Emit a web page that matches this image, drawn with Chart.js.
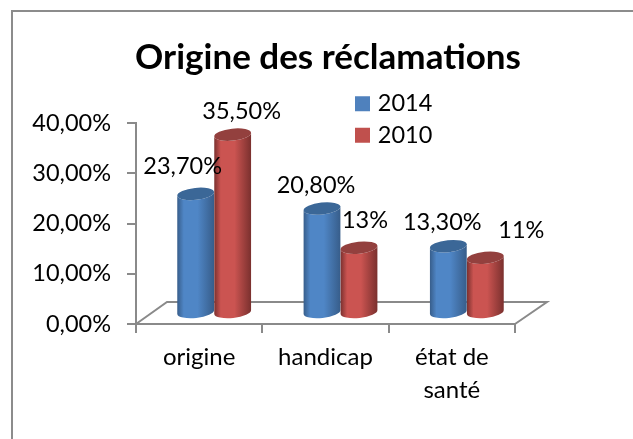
<!DOCTYPE html>
<html><head><meta charset="utf-8">
<style>
html,body{margin:0;padding:0;background:#fff;overflow:hidden}
#frame{position:absolute;left:11px;top:10px;width:622px;height:429px;border-top:2px solid #8c8c8c;border-left:2px solid #8c8c8c;box-sizing:border-box}
canvas{position:absolute;left:0;top:0}
</style>
<script src="https://cdn.jsdelivr.net/npm/chart.js@4"></script>
</head><body>
<div id="frame"></div>
<canvas id="c" width="633" height="439"></canvas>
<script>
const categories = [["origine"], ["handicap"], ["état de", "santé"]];
const seriesNames = ["2014", "2010"];
const values2014 = [23.7, 20.8, 13.3];
const values2010 = [35.5, 13, 11];
const labels2014 = ["23,70%", "20,80%", "13,30%"];
const labels2010 = ["35,50%", "13%", "11%"];
const yTickLabels = ["0,00%", "10,00%", "20,00%", "30,00%", "40,00%"];
const titleText = "Origine des réclamations";

const FONT = "Lato";
const AXIS = "#8a8a8a";
const SHIFT = {x: 15, y: -11};
const DEPTH = {x: 31, y: -22};
const NUDGE = [
  [[-13, -27], [-6, -23], [-6, -24]],
  [[9, -23], [6, -27], [36, -27]]
];
const PAINT = [
  {edge: "#375d8a", mid: "#4f86c6", top: "#3b6797"},
  {edge: "#7a302e", mid: "#cb5451", top: "#93403e"}
];
const allLabels = [labels2014, labels2010];

const cylinders = {
  id: "cylinders",
  afterLayout(chart) {
    const t = chart.titleBlock;
    t.left += 70.5; t.right += 70.5;
    const l = chart.legend;
    const w = l.width;
    l.left = 351; l.right = 351 + w; l.top = 84; l.bottom = 84 + l.height;
  },
  beforeDatasetsDraw(chart) {
    const {ctx, chartArea: a} = chart;
    ctx.save();
    ctx.strokeStyle = AXIS;
    ctx.lineWidth = 2;
    ctx.beginPath();
    ctx.moveTo(a.left, a.bottom);
    ctx.lineTo(a.left + DEPTH.x, a.bottom + DEPTH.y);
    ctx.lineTo(a.right + DEPTH.x + 1, a.bottom + DEPTH.y);
    ctx.lineTo(a.right, a.bottom);
    ctx.stroke();
    ctx.restore();
  },
  beforeDatasetDraw() { return false; },
  afterDatasetsDraw(chart) {
    const ctx = chart.ctx;
    const tilt = -6 * Math.PI / 180;
    ctx.save();
    ctx.translate(SHIFT.x, SHIFT.y);
    [0, 1].forEach(i => {
      const p = PAINT[i];
      chart.getDatasetMeta(i).data.forEach(el => {
        const rx = el.width / 2, ry = 6;
        const g = ctx.createLinearGradient(el.x - rx, 0, el.x + rx, 0);
        g.addColorStop(0, p.edge);
        g.addColorStop(0.18, p.mid);
        g.addColorStop(0.55, p.mid);
        g.addColorStop(1, p.edge);
        ctx.fillStyle = g;
        ctx.beginPath();
        ctx.ellipse(el.x, el.base, rx, ry, tilt, 0, Math.PI);
        ctx.ellipse(el.x, el.y, rx, ry, tilt, Math.PI, 0, true);
        ctx.closePath();
        ctx.fill();
        ctx.fillStyle = p.top;
        ctx.beginPath();
        ctx.ellipse(el.x, el.y, rx, ry, tilt, 0, Math.PI * 2);
        ctx.fill();
      });
    });
    ctx.fillStyle = "#000";
    ctx.font = "23.5px " + FONT;
    ctx.textAlign = "center";
    ctx.textBaseline = "middle";
    [0, 1].forEach(i => {
      chart.getDatasetMeta(i).data.forEach((el, j) => {
        ctx.fillText(allLabels[i][j], el.x + NUDGE[i][j][0], el.y + NUDGE[i][j][1]);
      });
    });
    ctx.restore();
  }
};

new Chart(document.getElementById("c"), {
  type: "bar",
  plugins: [cylinders],
  data: {
    labels: categories,
    datasets: [
      {label: seriesNames[0], data: values2014, backgroundColor: "#4f81bd", barThickness: 37},
      {label: seriesNames[1], data: values2010, backgroundColor: "#c0504d", barThickness: 37}
    ]
  },
  options: {
    responsive: false,
    animation: false,
    layout: {padding: {left: 0, top: 0, bottom: 0, right: 118}},
    scales: {
      x: {
        afterFit: s => { s.height = 115; },
        border: {color: AXIS, width: 2},
        grid: {drawOnChartArea: false, color: AXIS, lineWidth: 2, tickLength: 9},
        ticks: {color: "#000", font: {family: FONT, size: 24, lineHeight: 1.38}, padding: 8, maxRotation: 0, autoSkip: false}
      },
      y: {
        min: 0, max: 40,
        afterFit: s => { s.width = 136; },
        border: {color: AXIS, width: 2},
        grid: {drawOnChartArea: false, color: AXIS, lineWidth: 2, tickLength: 9},
        ticks: {
          stepSize: 10, color: "#000", padding: 16,
          font: {family: FONT, size: 23.5},
          callback: (v, i) => yTickLabels[i]
        }
      }
    },
    plugins: {
      title: {
        display: true, text: titleText, color: "#000",
        font: {family: FONT, size: 35, weight: "bold", lineHeight: 1.2},
        padding: {top: 37, bottom: 44}
      },
      legend: {
        position: "chartArea", align: "start",
        labels: {
          boxWidth: 7, boxHeight: 7, padding: 8, color: "#000", font: {family: FONT, size: 23.5},
          generateLabels: chart => chart.data.datasets.map((d, i) => ({
            text: d.label, fillStyle: d.backgroundColor, strokeStyle: d.backgroundColor,
            lineWidth: 8, fontColor: "#000", datasetIndex: i, hidden: false
          }))
        }
      },
      tooltip: {enabled: false}
    }
  }
});
</script>
</body></html>
